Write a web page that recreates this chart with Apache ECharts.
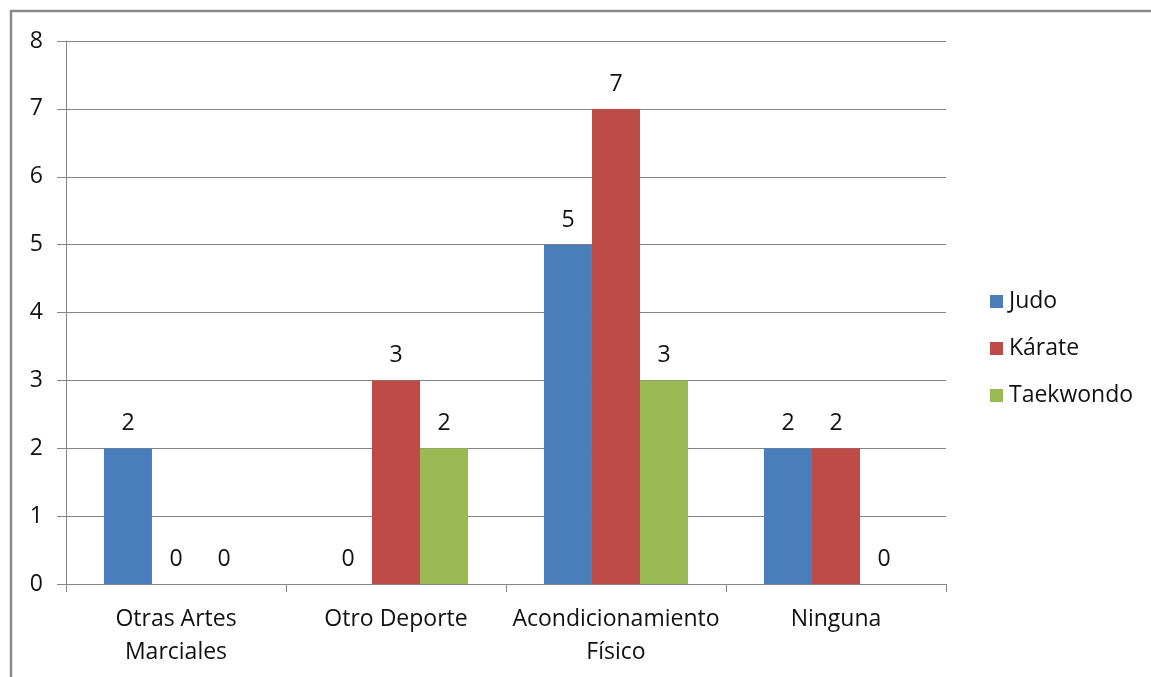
<!DOCTYPE html>
<html>
<head>
<meta charset="utf-8">
<script src="https://cdn.jsdelivr.net/npm/echarts@6/dist/echarts.min.js"></script>
<style>
  html, body { margin: 0; padding: 0; background: #ffffff; }
  #chart { width: 1151px; height: 677px; }
</style>
</head>
<body>
<div id="chart"></div>
<script>
// Categories and counts per martial art
const categories = ['Otras Artes\nMarciales', 'Otro Deporte', 'Acondicionamiento\nFísico', 'Ninguna'];
const judo = [2, 0, 5, 2];
const karate = [0, 3, 7, 2];
const taekwondo = [0, 2, 3, 0];
const seriesNames = ['Judo', 'Kárate', 'Taekwondo'];
const colors = ['#4A7EBB', '#BE4B48', '#98B954'];

const FONT = '"Open Sans", "Noto Sans", sans-serif';
const FS = 23;

const chart = echarts.init(document.getElementById('chart'));

const labelStyle = {
  show: true,
  position: 'top',
  distance: 13,
  color: '#111111',
  fontFamily: FONT,
  fontSize: FS
};

function makeSeries(name, data, i) {
  return {
    name: name,
    type: 'bar',
    data: data,
    barGap: '0%',
    barCategoryGap: '34.5%',
    itemStyle: { color: colors[i] },
    label: labelStyle
  };
}

chart.setOption({
  animation: false,
  backgroundColor: '#ffffff',
  graphic: [
    {
      type: 'polyline',
      shape: { points: [[11, 677], [11, 11], [1151, 11]] },
      style: { stroke: '#8a8a8a', lineWidth: 2.5, fill: null }
    }
  ],
  legend: {
    orient: 'vertical',
    left: 985,
    top: 285,
    itemWidth: 13,
    itemHeight: 13,
    itemGap: 24,
    icon: 'rect',
    textStyle: { color: '#111111', fontFamily: FONT, fontSize: FS, padding: [0, 0, 0, 1] },
    data: seriesNames
  },
  grid: { left: 66, right: 205, top: 41, bottom: 93, containLabel: false },
  xAxis: {
    type: 'category',
    data: categories,
    axisLine: { lineStyle: { color: '#868686', width: 1 } },
    axisTick: { show: true, alignWithLabel: false, length: 8, lineStyle: { color: '#868686' } },
    axisLabel: {
      color: '#111111',
      fontFamily: FONT,
      fontSize: FS,
      lineHeight: 33,
      margin: 19,
      interval: 0
    }
  },
  yAxis: {
    type: 'value',
    min: 0,
    max: 8,
    interval: 1,
    axisLine: { show: true, lineStyle: { color: '#868686', width: 1 } },
    axisTick: { show: true, length: 9, lineStyle: { color: '#868686' } },
    splitLine: { show: true, lineStyle: { color: '#868686', width: 1 } },
    axisLabel: {
      color: '#111111',
      fontFamily: FONT,
      fontSize: FS,
      margin: 23
    }
  },
  series: [
    makeSeries(seriesNames[0], judo, 0),
    makeSeries(seriesNames[1], karate, 1),
    makeSeries(seriesNames[2], taekwondo, 2)
  ]
});
</script>
</body>
</html>
